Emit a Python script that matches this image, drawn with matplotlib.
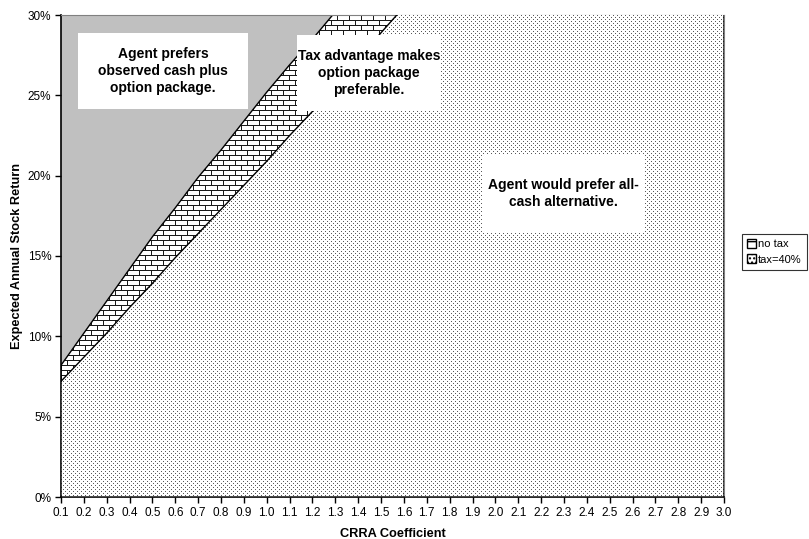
import matplotlib
matplotlib.use("Agg")
import matplotlib.pyplot as plt
import numpy as np
from matplotlib.patches import Patch, Rectangle

plt.rcParams['font.family'] = ['Liberation Sans', 'DejaVu Sans']

## CRRA coefficients on the category axis
crra = [0.1, 0.2, 0.3, 0.4, 0.5, 0.6, 0.7, 0.8, 0.9, 1.0,
        1.1, 1.2, 1.3, 1.4, 1.5, 1.6, 1.7, 1.8, 1.9, 2.0,
        2.1, 2.2, 2.3, 2.4, 2.5, 2.6, 2.7, 2.8, 2.9, 3.0]

## break-even expected return (%) without tax
no_tax = [8.2, 10.2, 12.2, 14.2, 16.2, 18.0, 19.9, 21.6, 23.4, 25.2,
          26.9, 28.5, 30.2, 31.8, 33.4, 35.0, 36.5, 38.0, 39.5, 41.0,
          42.4, 43.8, 45.2, 46.6, 48.0, 49.3, 50.6, 51.9, 53.2, 54.5]

## break-even expected return (%) with a 40% tax
tax40 = [7.2, 8.7, 10.2, 11.8, 13.3, 14.9, 16.4, 17.9, 19.4, 20.9,
         22.5, 24.0, 25.6, 27.2, 28.9, 30.5, 32.0, 33.5, 35.0, 36.5,
         38.0, 39.4, 40.8, 42.2, 43.6, 45.0, 46.3, 47.6, 48.9, 50.2]

y_ticks = [0, 5, 10, 15, 20, 25, 30]

fig = plt.figure(figsize=(8.09, 5.39), dpi=100)
ax = fig.add_axes([61 / 809, 42 / 539, 663 / 809, 482 / 539])
ax.set_facecolor('#c0c0c0')
ax.set_xlim(crra[0], crra[-1])
ax.set_ylim(0, 30)

## pixel fill patterns (brick and fine dots)
h_px, w_px = 482, 663
rows, cols = np.mgrid[0:h_px, 0:w_px]
brick = np.ones((h_px, w_px))
r = rows % 10
c = cols % 12
brick[(r == 0) | (r == 5)] = 0.1
brick[(r > 0) & (r < 5) & (c == 0)] = 0.1
brick[(r > 5) & (c == 6)] = 0.1

dots = np.ones((h_px, w_px))
dots[((rows % 4 == 0) & (cols % 4 == 0)) | ((rows % 4 == 2) & (cols % 4 == 2))] = 0.35


def patterned_area(y, pattern, z):
    poly = ax.fill_between(crra, 0, y, facecolor='none', edgecolor='black',
                           linewidth=1.0, zorder=z + 1)
    im = ax.imshow(pattern, cmap='gray', vmin=0, vmax=1, interpolation='nearest',
                   extent=[crra[0], crra[-1], 0, 30], aspect='auto', zorder=z)
    im.set_clip_path(poly.get_paths()[0], transform=ax.transData)


patterned_area(no_tax, brick, 1)
patterned_area(tax40, dots, 3)

## axes
ax.set_xticks(crra)
ax.set_xticklabels(['%.1f' % v for v in crra], fontsize=8.5)
ax.set_yticks(y_ticks)
ax.set_yticklabels(['%d%%' % v for v in y_ticks], fontsize=8.5)
ax.tick_params(direction='out', length=4, width=1, pad=3)
ax.set_xlabel('CRRA Coefficient', fontsize=9.2, fontweight='bold', labelpad=7)
ax.set_ylabel('Expected Annual Stock Return', fontsize=9.2, fontweight='bold', labelpad=3)
for s in ['left', 'bottom']:
    ax.spines[s].set_color('black')
    ax.spines[s].set_linewidth(1.2)
for s in ['top', 'right']:
    ax.spines[s].set_color('#808080')
ax.set_zorder(1)

## region labels
boxes = [
    (0.026, 0.805, 0.256, 0.158, 'Agent prefers\nobserved cash plus\noption package.'),
    (0.356, 0.801, 0.217, 0.158, 'Tax advantage makes\noption package\npreferable.'),
    (0.635, 0.550, 0.246, 0.160, 'Agent would prefer all-\ncash alternative.'),
]
for x0, y0, w, h, txt in boxes:
    ax.add_patch(Rectangle((x0, y0), w, h, transform=ax.transAxes,
                           facecolor='white', edgecolor='none', zorder=6))
    ax.text(x0 + w / 2, y0 + h / 2, txt, transform=ax.transAxes, ha='center',
            va='center', fontsize=10, fontweight='bold', linespacing=1.3, zorder=7)

## legend
handles = [Patch(facecolor='white', edgecolor='black', hatch='-', label='no tax'),
           Patch(facecolor='white', edgecolor='black', hatch='....', label='tax=40%')]
leg = fig.legend(handles=handles, loc='center left', bbox_to_anchor=(742 / 809, 1 - 252 / 539),
                 fontsize=8, frameon=True, fancybox=False, edgecolor='black',
                 handlelength=0.8, handleheight=0.8, handletextpad=0.2,
                 borderpad=0.45, borderaxespad=0, labelspacing=0.45)
leg.get_frame().set_linewidth(0.8)

fig.savefig('out.png', dpi=100)
